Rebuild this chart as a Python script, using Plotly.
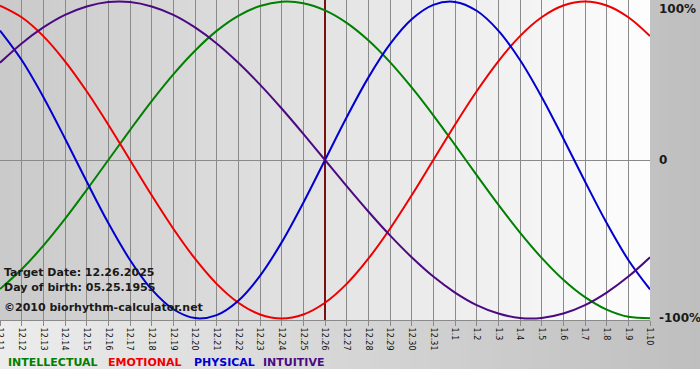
import plotly.graph_objects as go

# ---- data ----
dates = ["12.11", "12.12", "12.13", "12.14", "12.15", "12.16", "12.17", "12.18", "12.19", "12.20",
         "12.21", "12.22", "12.23", "12.24", "12.25", "12.26", "12.27", "12.28", "12.29", "12.30",
         "12.31", "1.1", "1.2", "1.3", "1.4", "1.5", "1.6", "1.7", "1.8", "1.9", "1.10"]
target_index = 15

intellectual = [-0.815, -0.690, -0.541, -0.372, -0.189, 0.0, 0.189, 0.372, 0.541, 0.690,
                0.815, 0.910, 0.972, 0.999, 0.990, 0.945, 0.866, 0.756, 0.618, 0.458,
                0.282, 0.095, -0.095, -0.282, -0.458, -0.618, -0.756, -0.866, -0.945, -0.990, -0.999]
emotional = [0.975, 0.901, 0.782, 0.623, 0.434, 0.223, 0.0, -0.223, -0.434, -0.623,
             -0.782, -0.901, -0.975, -1.0, -0.975, -0.901, -0.782, -0.623, -0.434, -0.223,
             0.0, 0.223, 0.434, 0.623, 0.782, 0.901, 0.975, 1.0, 0.975, 0.901, 0.782]
physical = [0.817, 0.631, 0.398, 0.136, -0.136, -0.398, -0.631, -0.817, -0.942, -0.998,
            -0.979, -0.888, -0.731, -0.520, -0.270, 0.0, 0.270, 0.520, 0.731, 0.888,
            0.979, 0.998, 0.942, 0.817, 0.631, 0.398, 0.136, -0.136, -0.398, -0.631, -0.817]
intuitive = [0.614, 0.736, 0.837, 0.916, 0.969, 0.997, 0.997, 0.969, 0.916, 0.837,
             0.736, 0.614, 0.476, 0.325, 0.165, 0.0, -0.165, -0.325, -0.476, -0.614,
             -0.736, -0.837, -0.916, -0.969, -0.997, -0.997, -0.969, -0.916, -0.837, -0.736, -0.614]

series_names = ["INTELLECTUAL", "EMOTIONAL", "PHYSICAL", "INTUITIVE"]
series_values = [intellectual, emotional, physical, intuitive]
series_colors = ["#008000", "#ee0000", "#0000d0", "#4b0a82"]
right_ticks = ["100%", "0", "-100%"]
info_lines = ["Target Date: 12.26.2025", "Day of birth: 05.25.1955", "\u00a92010 biorhythm-calculator.net"]

W, H = 700, 380
ML, MR, MT, MB = 0, 50, 0, 60
PW, PH = W - ML - MR, H - MT - MB

x = list(range(len(dates)))
fig = go.Figure()

# target date line (drawn first so curves sit above it)
fig.add_trace(go.Scatter(x=[target_index, target_index], y=[-1.01, 1.01], mode="lines",
                         line=dict(color="#7a1010", width=2), hoverinfo="skip"))

for name, vals, col in zip(series_names, series_values, series_colors):
    fig.add_trace(go.Scatter(x=x, y=vals, mode="lines", name=name,
                             line=dict(color=col, width=2, shape="spline", smoothing=1.0),
                             hoverinfo="skip"))

shapes = []


def mix(c0, c1, t):
    v = round(c0 + (c1 - c0) * t)
    return "rgb(%d,%d,%d)" % (v, v, v)


# outer (paper) gradient: light left -> dark right, down to y=369px
n_outer = 70
bottom_px = 369
for k in range(n_outer):
    x0 = k * W / n_outer / PW
    x1 = (k + 1) * W / n_outer / PW + 0.002
    shapes.append(dict(type="rect", xref="paper", yref="paper", x0=x0, x1=x1,
                       y0=-(bottom_px - PH) / PH, y1=1.0, layer="below",
                       line=dict(width=0), fillcolor=mix(0xec, 0xbf, k / (n_outer - 1))))

# plot area gradient: gray left -> white right
n_in = 65
for k in range(n_in):
    x0 = k / n_in
    x1 = min((k + 1) / n_in + 0.002, 1.0)
    shapes.append(dict(type="rect", xref="paper", yref="paper", x0=x0, x1=x1,
                       y0=0, y1=1, layer="below",
                       line=dict(width=0), fillcolor=mix(0xca, 0xfd, k / (n_in - 1))))

annotations = []
# right side labels
for txt, yv, ys in zip(right_ticks, [1.0, 0.0, -1.0], [-7, 0, 0]):
    annotations.append(dict(text="<b>%s</b>" % txt, xref="paper", yref="y", x=1.0, y=yv,
                            xanchor="left", yanchor="middle", xshift=7, yshift=ys, showarrow=False,
                            font=dict(family="DejaVu Sans", size=12, color="#1a1a1a")))
# info text
for txt, ypx in zip(info_lines, [272, 287, 307]):
    annotations.append(dict(text="<b>%s</b>" % txt, xref="paper", yref="paper", x=2 / PW,
                            y=(PH - ypx) / PH, xanchor="left", yanchor="middle", showarrow=False,
                            font=dict(family="DejaVu Sans", size=11, color="#1a1a1a")))
# legend text
for name, col, xpx in zip(series_names, series_colors, [6, 106, 192, 261]):
    annotations.append(dict(text="<b>%s</b>" % name, xref="paper", yref="paper", x=xpx / PW,
                            y=(PH - 362) / PH, xanchor="left", yanchor="middle", showarrow=False,
                            font=dict(family="DejaVu Sans", size=11, color=col)))

fig.update_layout(
    width=W, height=H, margin=dict(l=ML, r=MR, t=MT, b=MB, pad=0, autoexpand=False),
    paper_bgcolor="white", plot_bgcolor="rgba(0,0,0,0)",
    showlegend=False, shapes=shapes, annotations=annotations,
    xaxis=dict(range=[0, len(dates) - 1], tickvals=x, ticktext=dates, tickangle=90,
               showgrid=True, gridcolor="#8a8a8a", gridwidth=1, zeroline=False,
               ticks="outside", ticklen=5, tickcolor="#8a8a8a", automargin=False,
               ticklabeloverflow="allow",
               showline=True, linecolor="#8a8a8a", mirror=True,
               tickfont=dict(family="DejaVu Sans", size=8, color="#111111")),
    yaxis=dict(range=[-1.01, 1.01], showgrid=False, zeroline=True, zerolinecolor="#8a8a8a",
               zerolinewidth=1, showticklabels=False, ticks="", automargin=False),
)

fig.write_html("out.html", config={"displayModeBar": False},
               post_script="document.body.style.margin='0';document.body.style.padding='0';")
